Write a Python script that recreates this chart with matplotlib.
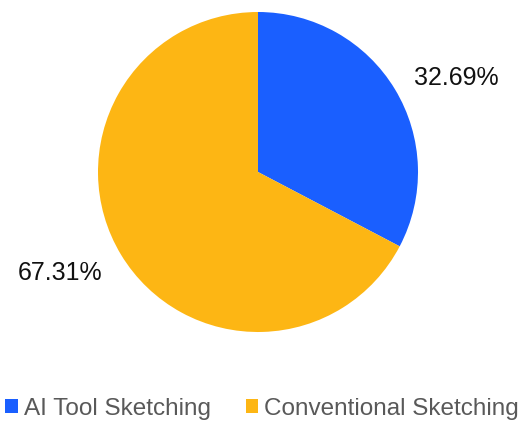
import matplotlib
matplotlib.use("Agg")
import matplotlib.pyplot as plt
import numpy as np
from matplotlib.patches import Patch

categories = ["AI Tool Sketching", "Conventional Sketching"]
values = [32.69, 67.31]
colors = ["#1A5FFF", "#FDB614"]

plt.rcParams['font.family'] = ['Liberation Sans', 'DejaVu Sans']

fig = plt.figure(figsize=(5.19, 4.23), dpi=100)
ax = fig.add_axes([98/519, (423-332)/423, 320/519, 320/423])
wedges, _ = ax.pie(values, colors=colors, startangle=90, counterclock=False,
                   radius=1.0, wedgeprops=dict(linewidth=0))
ax.set_xlim(-1, 1)
ax.set_ylim(-1, 1)
ax.set_aspect('equal')
ax.axis('off')

for w, v in zip(wedges, values):
    ang = np.deg2rad((w.theta1 + w.theta2) / 2 - 5)
    r = 1.38
    ax.text(r*np.cos(ang), r*np.sin(ang) - 0.02, f"{v:.2f}%", ha='center', va='center',
            fontsize=18, color='#111111', clip_on=False)

handles = [Patch(facecolor=c, edgecolor='none') for c in colors]
fig.legend(handles, categories, loc='center', bbox_to_anchor=(0.505, 1-409/423),
           ncol=2, frameon=False, fontsize=17.5, labelcolor='#595959',
           handlelength=0.5, handleheight=0.5, handletextpad=0.25, columnspacing=1.45)

fig.savefig("out.png", dpi=100)
